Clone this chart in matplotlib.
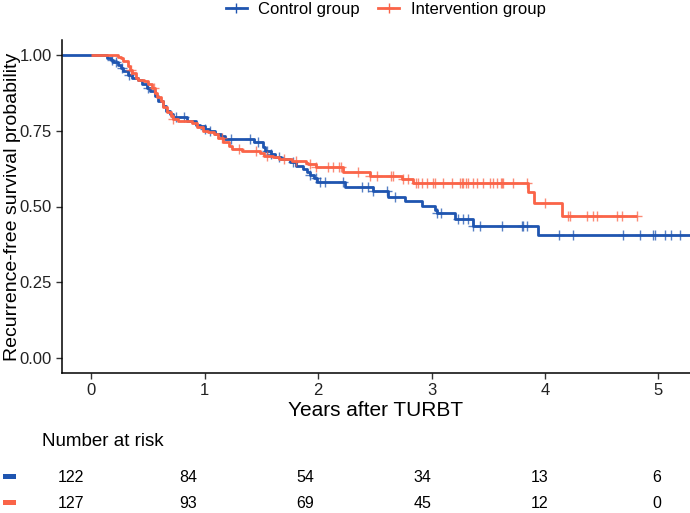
import numpy as np
import matplotlib
matplotlib.use("Agg")
import matplotlib.pyplot as plt
from matplotlib.patches import Rectangle

plt.rcParams['font.family'] = ['Liberation Sans', 'DejaVu Sans']

blue = '#1f55b0'
red = '#fa6448'

# Kaplan-Meier steps (time in years, survival after the step)
ctrl_t = [0.00, 0.14, 0.17, 0.19, 0.23, 0.26, 0.28, 0.32, 0.36, 0.41, 0.45, 0.49, 0.52,
          0.56, 0.59, 0.63, 0.66, 0.69, 0.72, 0.84, 0.92, 0.96, 1.00, 1.04, 1.09, 1.14,
          1.18, 1.43, 1.51, 1.53, 1.58, 1.62, 1.67, 1.75, 1.80, 1.87, 1.90, 1.93, 1.96,
          1.99, 2.24, 2.48, 2.62, 2.77, 2.92, 3.03, 3.05, 3.21, 3.37, 3.94, 5.28]
ctrl_s = [1.000, 0.990, 0.985, 0.978, 0.967, 0.957, 0.947, 0.933, 0.923, 0.917, 0.905, 0.893, 0.880,
          0.865, 0.848, 0.833, 0.817, 0.807, 0.797, 0.783, 0.770, 0.767, 0.757, 0.750, 0.740, 0.733,
          0.723, 0.713, 0.697, 0.683, 0.673, 0.663, 0.657, 0.647, 0.633, 0.623, 0.613, 0.603, 0.593,
          0.580, 0.563, 0.550, 0.533, 0.517, 0.503, 0.490, 0.480, 0.460, 0.437, 0.407, 0.407]
ctrl_cens = [0.18, 0.22, 0.27, 0.33, 0.50, 0.75, 0.82, 1.00, 1.05, 1.23, 1.40, 1.47, 1.55,
             1.58, 1.65, 1.78, 1.93, 1.98, 2.02, 2.06, 2.22, 2.39, 2.44, 2.48, 2.61, 2.68,
             3.05, 3.08, 3.23, 3.28, 3.32, 3.37, 3.43, 3.62, 3.80, 3.81, 3.84, 4.12, 4.25,
             4.69, 4.84, 4.95, 4.97, 5.06, 5.11, 5.19]

int_t = [0.00, 0.23, 0.26, 0.28, 0.32, 0.34, 0.36, 0.39, 0.41, 0.46, 0.50, 0.53, 0.56,
         0.58, 0.61, 0.63, 0.67, 0.70, 0.72, 0.76, 0.89, 0.93, 0.98, 1.03, 1.08, 1.12,
         1.16, 1.21, 1.24, 1.33, 1.49, 1.52, 1.60, 1.65, 1.77, 1.89, 1.91, 1.98, 2.22,
         2.46, 2.74, 2.84, 3.85, 3.90, 4.15, 4.81]
int_s = [1.000, 0.995, 0.990, 0.980, 0.963, 0.950, 0.940, 0.925, 0.917, 0.913, 0.905, 0.890, 0.875,
         0.863, 0.847, 0.830, 0.813, 0.800, 0.790, 0.783, 0.775, 0.763, 0.750, 0.745, 0.738, 0.725,
         0.713, 0.700, 0.690, 0.683, 0.677, 0.667, 0.663, 0.657, 0.650, 0.645, 0.640, 0.630, 0.613,
         0.600, 0.590, 0.578, 0.547, 0.513, 0.467, 0.467]
int_cens = [0.35, 0.55, 0.72, 1.15, 1.30, 1.45, 1.55, 1.70, 1.80, 1.93, 1.98, 2.09, 2.13,
            2.18, 2.20, 2.35, 2.46, 2.52, 2.64, 2.66, 2.75, 2.79, 2.86, 2.88, 2.92, 2.96,
            3.01, 3.03, 3.10, 3.18, 3.25, 3.27, 3.28, 3.30, 3.32, 3.37, 3.40, 3.45, 3.52,
            3.54, 3.58, 3.61, 3.62, 3.63, 3.72, 3.84, 4.00, 4.20, 4.22, 4.37, 4.42, 4.46,
            4.64, 4.68, 4.81]

risk_times = [0, 1, 2, 3, 4, 5]
risk_ctrl = [122, 84, 54, 34, 13, 6]
risk_int = [127, 93, 69, 45, 12, 0]

labels = ['Control group', 'Intervention group']
x_lo, x_hi = -0.26, 5.28


def surv_at(times, surv, pts):
    idx = np.searchsorted(times, pts, side='right') - 1
    return np.asarray(surv)[idx]


fig = plt.figure(figsize=(6.9, 5.13), dpi=100)
ax = fig.add_axes([62 / 690, 1 - 373 / 513, 628 / 690, 333 / 513])

groups = [(ctrl_t, ctrl_s, ctrl_cens, blue), (int_t, int_s, int_cens, red)]
for (tt, ss, cc, col), lab in zip(groups, labels):
    tt = np.array(tt)
    ss = np.array(ss)
    if col == blue:
        tt = np.r_[x_lo, tt]
        ss = np.r_[1.0, ss]
    ax.step(tt, ss, where='post', color=col, lw=2.0, label=lab, solid_capstyle='butt')
    ax.plot(cc, surv_at(tt, ss, cc), ls='none', marker='+', ms=7, mew=1.0,
            color=col, alpha=0.75)

ax.set_xlim(x_lo, x_hi)
ax.set_ylim(-0.05, 1.05)
ax.set_xticks(risk_times)
ax.set_yticks([0, 0.25, 0.5, 0.75, 1.0])
ax.set_yticklabels(['0.00', '0.25', '0.50', '0.75', '1.00'])
ax.tick_params(labelsize=12, length=4, width=1, colors='#333333', labelcolor='#222222')
for s in ['top', 'right']:
    ax.spines[s].set_visible(False)
for s in ['left', 'bottom']:
    ax.spines[s].set_linewidth(1.1)
ax.set_xlabel('Years after TURBT', fontsize=15, labelpad=2)
ax.set_ylabel('Recurrence-free survival probability', fontsize=14)
ax.yaxis.set_label_coords(-21 / 628 * 2 + 0.0016, 0.5)

# legend
handles = [plt.Line2D([], [], color=blue, lw=2, marker='+', ms=7),
           plt.Line2D([], [], color=red, lw=2, marker='+', ms=7)]
fig.legend(handles, labels, loc='upper center', bbox_to_anchor=(0.559, 1.025), ncol=2,
           frameon=False, fontsize=12, handlelength=1.25, columnspacing=1.1,
           handletextpad=0.7)

# number at risk table
rt = fig.add_axes([40 / 690, 0, 650 / 690, 1 - 427 / 513])
rt.set_xlim(x_lo, x_hi)
rt.set_ylim(0, 86)
rt.axis('off')
fig.text(42 / 690, 1 - 441 / 513, 'Number at risk', fontsize=13.5, va='center', ha='left')
for yy, counts, col in [(35, risk_ctrl, blue), (9, risk_int, red)]:
    for t, n in zip(risk_times, counts):
        rt.text(t, yy, str(n), fontsize=11.5, ha='center', va='center')
for ypx, col in [(476, blue), (502, red)]:
    fig.add_artist(Rectangle((3 / 690, 1 - (ypx + 2.5) / 513), 13 / 690, 5 / 513,
                             color=col, lw=0, transform=fig.transFigure))

fig.savefig('out.png', dpi=100)
